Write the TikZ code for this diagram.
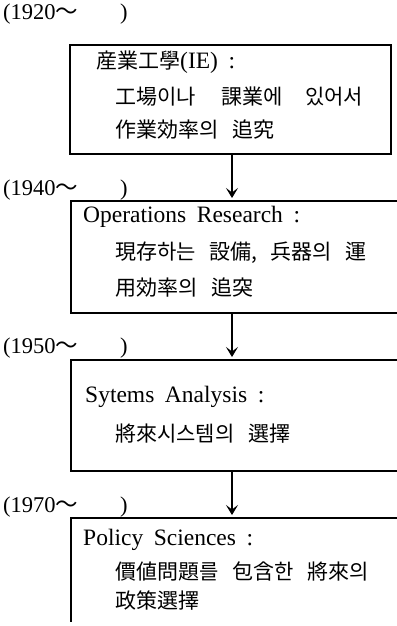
\documentclass[tikz,border=0pt]{standalone}
\usepackage{fontspec}
\setmainfont{Liberation Serif}
\newfontfamily\kr{Noto Sans CJK KR}
\usetikzlibrary{arrows.meta}
\begin{document}
\begin{tikzpicture}[x=1pt,y=-1pt,
  lat/.style={anchor=west,inner sep=0pt,font=\fontsize{23.5}{26}\selectfont},
  kor/.style={anchor=west,inner sep=0pt,font=\kr\fontsize{21}{24}\selectfont},
  yr/.style={anchor=west,inner sep=0pt,font=\fontsize{22.5}{24}\selectfont},
  area/.style={inner sep=0pt,outer sep=0pt,anchor=north west},
  frame/.style={line width=1.1pt},
  flow/.style={line width=1.1pt,-{Stealth[length=10pt,width=12pt,inset=4.5pt]}}]
\useasboundingbox (0,0) rectangle (396,626);
\newcommand\wsp{\hspace{0.45em}}
\newcommand\ksp{\hspace{0.65em}}
% year labels
\node[yr] (y1) at (3,14) {(1920{\kr ～}\hspace{42pt})};
\node[yr] (y2) at (3,190) {(1940{\kr ～}\hspace{42pt})};
\node[yr] (y3) at (3,348) {(1950{\kr ～}\hspace{42pt})};
\node[yr] (y4) at (3,507) {(1970{\kr ～}\hspace{42pt})};
% box areas
\node[area,minimum width=321pt,minimum height=109pt] (b1) at (70,45) {};
\node[area,minimum width=326pt,minimum height=112pt] (b2) at (71,201) {};
\node[area,minimum width=326pt,minimum height=111pt] (b3) at (71,360) {};
\node[area,minimum width=326pt,minimum height=104pt] (b4) at (71,518) {};
\draw[frame] (b1.north west) rectangle (b1.south east);
\draw[frame] (b2.north east) -- (b2.north west) -- (b2.south west) -- (b2.south east);
\draw[frame] (b3.north east) -- (b3.north west) -- (b3.south west) -- (b3.south east);
\draw[frame] (b4.north east) -- (b4.north west) -- (b4.south west);
% box 1 text
\node[kor] (t1a) at (96,62) {産業工學{\fontspec{Liberation Serif}\fontsize{23.5}{26}\selectfont(IE)\wsp:}};
\node[kor] (t1b) at (115,97) {工場이나\hspace{26pt}課業에\hspace{22pt}있어서};
\node[kor] (t1c) at (115,130) {作業効率의\ksp 追究};
% box 2 text
\node[lat] (t2a) at (83,217) {Operations\wsp Research\wsp:};
\node[kor] (t2b) at (115,253) {現存하는\ksp 設備,\ksp 兵器의\ksp 運};
\node[kor] (t2c) at (115,288) {用効率의\ksp 追突};
% box 3 text
\node[lat] (t3a) at (85,397) {Sytems\wsp Analysis\wsp:};
\node[kor] (t3b) at (115,434) {將來시스템의\ksp 選擇};
% box 4 text
\node[lat] (t4a) at (83,540) {Policy\wsp Sciences\wsp:};
\node[kor] (t4b) at (115,571) {價値問題를\ksp 包含한\ksp 將來의};
\node[kor] (t4c) at (115,601) {政策選擇};
% arrows
\draw[flow] (b1.south -| 232,0) -- ([yshift=3pt]b2.north -| 232,0);
\draw[flow] (b2.south -| 232,0) -- ([yshift=3pt]b3.north -| 232,0);
\draw[flow] (b3.south -| 232,0) -- ([yshift=3pt]b4.north -| 232,0);
\end{tikzpicture}
\end{document}
